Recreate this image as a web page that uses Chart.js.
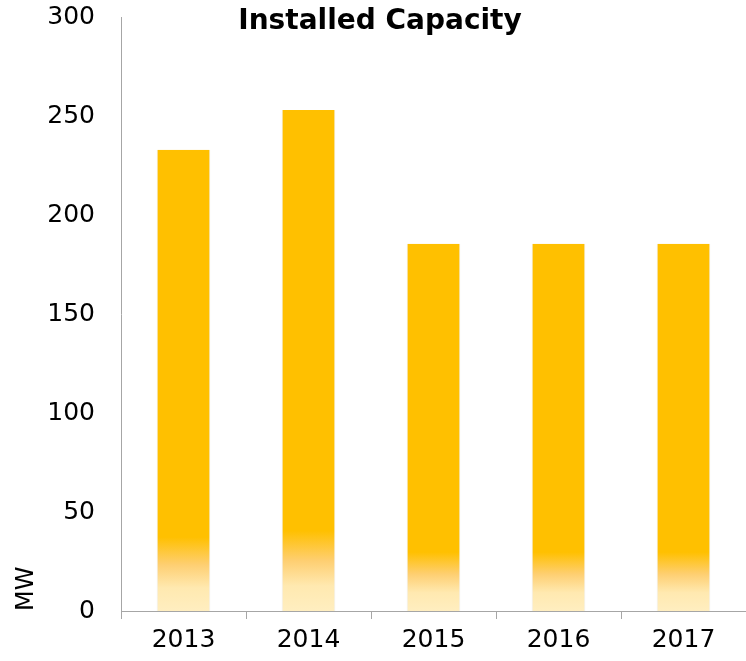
<!DOCTYPE html>
<html>
<head>
<meta charset="utf-8">
<script src="https://cdn.jsdelivr.net/npm/chart.js@4"></script>
<style>
  html, body { margin: 0; padding: 0; background: #fff; }
  #wrap { position: relative; width: 746px; height: 661px; }
  #title {
    position: absolute; left: 0; width: 760px; top: 3px; text-align: center;
    font-family: "DejaVu Sans", sans-serif; font-weight: bold; font-size: 28px; color: #000;
  }
</style>
</head>
<body>
<div id="wrap">
  <canvas id="capacityChart" width="746" height="661"></canvas>
  <div id="title">Installed Capacity</div>
</div>
<script>
const years = ['2013', '2014', '2015', '2016', '2017'];
const capacityMW = [233, 253, 185.5, 185.5, 185.5];
const yTicks = [0, 50, 100, 150, 200, 250, 300];

// gradient at the foot of each bar, sized to the bar
function barFill(ctx) {
  const chart = ctx.chart;
  const y = chart.scales.y;
  if (!chart.chartArea || !y || ctx.dataIndex === undefined) return '#FFC000';
  const top = y.getPixelForValue(capacityMW[ctx.dataIndex]);
  const bottom = y.getPixelForValue(0);
  if (!isFinite(top) || !isFinite(bottom)) return '#FFC000';
  const g = chart.ctx.createLinearGradient(0, bottom, 0, top);
  g.addColorStop(0, '#FFEEC0');
  g.addColorStop(0.05, '#FFE9B0');
  g.addColorStop(0.10, '#FECF72');
  g.addColorStop(0.16, '#FFC000');
  g.addColorStop(1, '#FFC000');
  return g;
}

const capacityChart = new Chart(document.getElementById('capacityChart'), {
  type: 'bar',
  data: {
    labels: years,
    datasets: [{
      label: 'Installed Capacity',
      data: capacityMW,
      backgroundColor: barFill,
      borderColor: 'rgba(0, 0, 0, 0.07)',
      borderWidth: { left: 1, right: 1, top: 0, bottom: 0 },
      borderSkipped: false,
      barPercentage: 0.43,
      categoryPercentage: 1.0
    }]
  },
  options: {
    responsive: false,
    animation: false,
    layout: { padding: { left: 12, top: 17, right: 0, bottom: 0 } },
    plugins: {
      legend: { display: false },
      tooltip: { enabled: false },
      title: { display: false }
    },
    scales: {
      x: {
        grid: { offset: true, drawOnChartArea: false, drawTicks: true, tickLength: 8, color: '#a6a6a6' },
        border: { display: true, color: '#a6a6a6' },
        ticks: { color: '#000', font: { family: 'DejaVu Sans', size: 25 }, padding: 6 }
      },
      y: {
        min: 0,
        max: 300,
        afterBuildTicks: axis => { axis.ticks = yTicks.map(v => ({ value: v })); },
        afterFit: axis => { axis.width = 109; axis.paddingTop = 0; axis.paddingBottom = 0; },
        grid: { display: false, drawTicks: false },
        border: { display: true, color: '#a6a6a6' },
        ticks: { color: '#000', font: { family: 'DejaVu Sans', size: 25 }, padding: 26 },
        title: {
          display: true, text: 'MW', align: 'start', color: '#000',
          font: { family: 'DejaVu Sans', size: 24 }, padding: { top: 0, bottom: 4 }
        }
      }
    }
  }
});
capacityChart.update();
</script>
</body>
</html>
